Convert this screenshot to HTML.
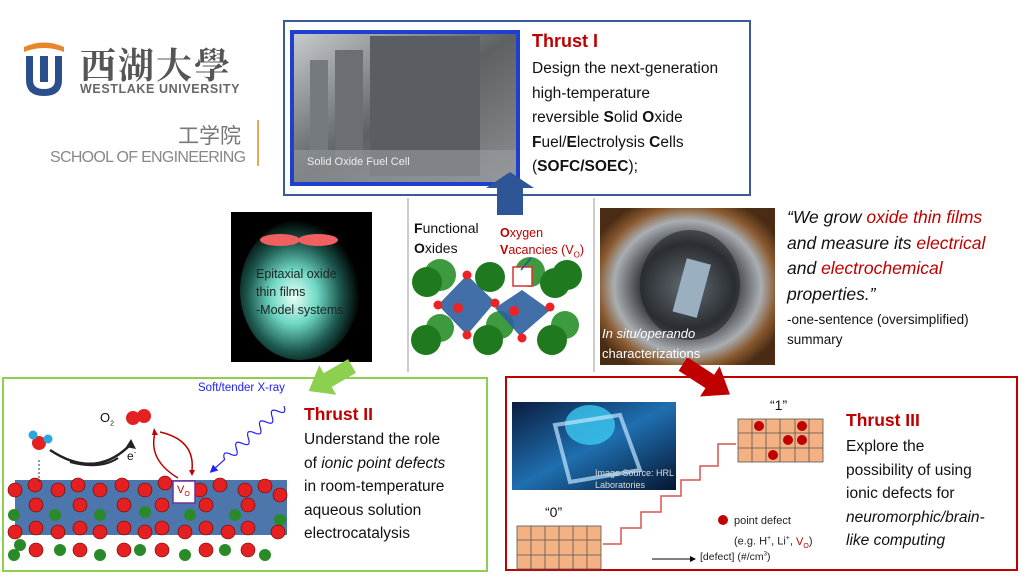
<!DOCTYPE html>
<html><head><meta charset="utf-8"><style>
html,body{margin:0;padding:0;background:#fff;}
body{width:1024px;height:576px;overflow:hidden;position:relative;font-family:"Liberation Sans","Noto Sans CJK SC",sans-serif;}
.t{position:absolute;white-space:nowrap;}
</style></head><body>
<svg width="1024" height="576" style="position:absolute;left:0;top:0" xmlns="http://www.w3.org/2000/svg">
<defs>
<radialGradient id="glow" cx="0.45" cy="0.55" r="0.55"><stop offset="0" stop-color="#e8fff8"/><stop offset="0.35" stop-color="#6fd8c4"/><stop offset="0.7" stop-color="#1d5a50"/><stop offset="1" stop-color="#000"/></radialGradient>
<radialGradient id="cham" cx="0.5" cy="0.5" r="0.6"><stop offset="0" stop-color="#c8d4dc"/><stop offset="0.45" stop-color="#3a3c40"/><stop offset="0.7" stop-color="#a9aeb3"/><stop offset="0.85" stop-color="#8a5a30"/><stop offset="1" stop-color="#4a2c14"/></radialGradient>
<linearGradient id="sofc" x1="0" y1="0" x2="1" y2="1"><stop offset="0" stop-color="#c9cdd0"/><stop offset="0.5" stop-color="#5d6164"/><stop offset="1" stop-color="#8d9194"/></linearGradient>
<linearGradient id="brain" x1="0" y1="0" x2="1" y2="1"><stop offset="0" stop-color="#0a1d3f"/><stop offset="0.5" stop-color="#1f6fb0"/><stop offset="1" stop-color="#051530"/></linearGradient>
</defs>
<!-- logo -->
<path d="M24 47 Q44 38 64 47 L64 52 Q44 44 24 52Z" fill="#e9862c"/>
<path d="M26 56 L26 80 Q26 96 44 96 Q62 96 62 80 L62 56 L55 56 L55 80 Q55 89 44 89 Q33 89 33 80 L33 56Z" fill="#2a4f8a"/>
<path d="M40 56 L40 82 L48 82 L48 56Z" fill="#2a4f8a"/>
<line x1="258" y1="120" x2="258" y2="166" stroke="#e9862c" stroke-width="1.5"/>
<!-- thrust I box -->
<rect x="284" y="21" width="466" height="174" fill="#fff" stroke="#3a5a9a" stroke-width="2"/>
<rect x="292" y="32" width="226" height="152" fill="url(#sofc)" stroke="#1f3fd0" stroke-width="4"/>
<rect x="370" y="36" width="110" height="140" fill="#5a5e62"/><rect x="335" y="50" width="28" height="110" fill="#6b6f73"/><rect x="310" y="60" width="18" height="90" fill="#757a7e"/>
<rect x="294" y="150" width="222" height="32" fill="#9a9da0" opacity="0.6"/>
<!-- blue up arrow -->
<polygon points="497,215 497,188 486,188 510,172 534,188 523,188 523,215" fill="#2e5596"/>
<!-- separators -->
<line x1="408" y1="198" x2="408" y2="372" stroke="#bbb" stroke-width="1.5"/>
<line x1="594" y1="198" x2="594" y2="372" stroke="#bbb" stroke-width="1.5"/>
<!-- epitaxial photo -->
<rect x="231" y="212" width="141" height="150" fill="#000"/>
<ellipse cx="300" cy="290" rx="60" ry="70" fill="url(#glow)"/>
<ellipse cx="280" cy="240" rx="20" ry="6" fill="#f06060"/><ellipse cx="318" cy="240" rx="20" ry="6" fill="#f06060"/>
<!-- crystal -->
<g>
<circle cx="440" cy="275" r="16" fill="#3e9a3e"/><circle cx="427" cy="282" r="15" fill="#1f7a1f"/>
<circle cx="490" cy="277" r="15" fill="#1f7a1f"/><circle cx="530" cy="272" r="15" fill="#3e9a3e"/><circle cx="567" cy="275" r="15" fill="#1f7a1f"/><circle cx="555" cy="283" r="15" fill="#1f7a1f"/>
<circle cx="440" cy="328" r="14" fill="#3e9a3e"/><circle cx="426" cy="340" r="15" fill="#1f7a1f"/><circle cx="500" cy="325" r="14" fill="#3e9a3e"/><circle cx="488" cy="340" r="15" fill="#1f7a1f"/><circle cx="565" cy="325" r="14" fill="#3e9a3e"/><circle cx="552" cy="340" r="15" fill="#1f7a1f"/>
<polygon points="467,275 495,302 467,335 438,305" fill="#2e5f9e" opacity="0.9"/>
<polygon points="522,290 550,310 520,336 495,308" fill="#2e5f9e" opacity="0.9"/>
<g fill="#e22">
<circle cx="467" cy="275" r="4.5"/><circle cx="438" cy="305" r="4.5"/><circle cx="495" cy="303" r="4.5"/><circle cx="467" cy="335" r="4.5"/><circle cx="458" cy="308" r="5"/><circle cx="514" cy="311" r="5"/><circle cx="550" cy="307" r="4.5"/><circle cx="522" cy="338" r="4.5"/></g>
<rect x="513" y="267" width="19" height="19" fill="#fff" stroke="#e03030" stroke-width="1.5"/>
<line x1="521" y1="270" x2="531" y2="258" stroke="#2e5596" stroke-width="1.5"/>
</g>
<!-- chamber photo -->
<rect x="600" y="208" width="175" height="157" fill="url(#cham)"/>
<ellipse cx="690" cy="285" rx="50" ry="55" fill="#20242a" opacity="0.6"/>
<rect x="680" y="260" width="25" height="55" fill="#9ab0c0" transform="rotate(15 690 285)"/>
<!-- green arrow -->
<polygon transform="translate(352,366) rotate(150)" points="0,-8 28,-8 28,-17 50,0 28,17 28,8 0,8" fill="#8dcf4e"/>
<!-- red arrow -->
<polygon transform="translate(683,364) rotate(33)" points="0,-8 32,-8 32,-18 56,0 32,18 32,8 0,8" fill="#c00000"/>
<!-- thrust II box -->
<rect x="3" y="378" width="484" height="193" fill="none" stroke="#8dcf4e" stroke-width="2"/>
<!-- thrust III box -->
<rect x="506" y="377" width="511" height="193" fill="none" stroke="#c00000" stroke-width="2"/>
<!-- thrust II illustration -->
<g>
<rect x="15" y="480" width="272" height="55" fill="#2e5f9e" opacity="0.85"/>
<g fill="#2a8a2a">
<circle cx="14" cy="515" r="6"/><circle cx="20" cy="545" r="6"/><circle cx="14" cy="555" r="6"/><circle cx="60" cy="550" r="6"/><circle cx="100" cy="555" r="6"/><circle cx="140" cy="550" r="6"/><circle cx="185" cy="555" r="6"/><circle cx="225" cy="550" r="6"/><circle cx="265" cy="555" r="6"/><circle cx="280" cy="520" r="6"/><circle cx="145" cy="512" r="6"/><circle cx="190" cy="515" r="6"/><circle cx="55" cy="515" r="6"/><circle cx="235" cy="515" r="6"/><circle cx="100" cy="515" r="6"/>
</g>
<g fill="#e52020" stroke="#600" stroke-width="0.6">
<circle cx="15" cy="490" r="7"/><circle cx="35" cy="485" r="7"/><circle cx="58" cy="490" r="7"/><circle cx="78" cy="485" r="7"/><circle cx="100" cy="490" r="7"/><circle cx="122" cy="485" r="7"/><circle cx="145" cy="490" r="7"/><circle cx="165" cy="483" r="7"/><circle cx="200" cy="490" r="7"/><circle cx="220" cy="485" r="7"/><circle cx="245" cy="490" r="7"/><circle cx="265" cy="486" r="7"/><circle cx="280" cy="495" r="7"/>
<circle cx="36" cy="505" r="7"/><circle cx="80" cy="505" r="7"/><circle cx="124" cy="505" r="7"/><circle cx="162" cy="505" r="7"/><circle cx="206" cy="505" r="7"/><circle cx="248" cy="505" r="7"/>
<circle cx="36" cy="528" r="7"/><circle cx="15" cy="532" r="7"/><circle cx="58" cy="532" r="7"/><circle cx="80" cy="528" r="7"/><circle cx="100" cy="532" r="7"/><circle cx="124" cy="528" r="7"/><circle cx="145" cy="532" r="7"/><circle cx="162" cy="528" r="7"/><circle cx="185" cy="532" r="7"/><circle cx="206" cy="528" r="7"/><circle cx="228" cy="532" r="7"/><circle cx="248" cy="528" r="7"/><circle cx="278" cy="532" r="7"/>
<circle cx="36" cy="550" r="7"/><circle cx="80" cy="550" r="7"/><circle cx="124" cy="550" r="7"/><circle cx="162" cy="550" r="7"/><circle cx="206" cy="550" r="7"/><circle cx="248" cy="550" r="7"/>
</g>
<rect x="173" y="481" width="22" height="22" fill="#fff" stroke="#7030a0" stroke-width="1.5"/>
<line x1="39" y1="460" x2="39" y2="482" stroke="#333" stroke-dasharray="2,2"/>
<circle cx="39" cy="443" r="7" fill="#e52020"/><circle cx="33" cy="435" r="4.5" fill="#29a8e0"/><circle cx="48" cy="439" r="4.5" fill="#29a8e0"/>
<path d="M50 450 Q95 480 130 445" fill="none" stroke="#222" stroke-width="2.5"/><polygon points="131,439 136,449 126,447" fill="#222"/>
<path d="M70 462 Q100 470 118 458" fill="none" stroke="#222" stroke-width="2"/>
<circle cx="133" cy="418" r="7" fill="#e52020"/><circle cx="144" cy="416" r="7" fill="#e52020"/>
<path d="M160 432 Q195 440 192 470" fill="none" stroke="#c00000" stroke-width="1.5"/><polygon points="189,470 195,470 192,476" fill="#c00000"/>
<path d="M178 478 Q148 460 155 433" fill="none" stroke="#c00000" stroke-width="1.5"/><polygon points="152,435 158,435 154,428" fill="#c00000"/>
<g transform="translate(284,406) rotate(138)">
<path d="M0 0 q4 -9 8 0 t8 0 t8 0 t8 0 t8 0 t8 0 t8 0 t8 0 t8 0 t8 0 L92 0" fill="none" stroke="#2020ff" stroke-width="1.2"/>
<polygon points="92,-4 100,0 92,4" fill="#2020ff"/>
</g>
</g>
<!-- thrust III illustration -->
<rect x="512" y="402" width="164" height="88" fill="url(#brain)"/>
<ellipse cx="590" cy="425" rx="25" ry="20" fill="#3bc8f0" opacity="0.8"/>
<polygon points="555,425 620,415 640,470 570,482" fill="none" stroke="#bfe6ff" stroke-width="4" opacity="0.7"/>
<g stroke="#555" stroke-width="0.8" fill="#f4b183">
<rect x="738" y="419" width="85" height="43"/>
<rect x="517" y="526" width="84" height="43"/>
</g>
<g stroke="#555" stroke-width="0.8">
<line x1="752" y1="419" x2="752" y2="462"/><line x1="766" y1="419" x2="766" y2="462"/><line x1="780" y1="419" x2="780" y2="462"/><line x1="795" y1="419" x2="795" y2="462"/><line x1="809" y1="419" x2="809" y2="462"/>
<line x1="738" y1="433" x2="823" y2="433"/><line x1="738" y1="448" x2="823" y2="448"/>
<line x1="531" y1="526" x2="531" y2="569"/><line x1="545" y1="526" x2="545" y2="569"/><line x1="559" y1="526" x2="559" y2="569"/><line x1="573" y1="526" x2="573" y2="569"/><line x1="587" y1="526" x2="587" y2="569"/>
<line x1="517" y1="540" x2="601" y2="540"/><line x1="517" y1="555" x2="601" y2="555"/>
</g>
<g fill="#c00000"><circle cx="759" cy="426" r="5"/><circle cx="802" cy="426" r="5"/><circle cx="788" cy="440" r="5"/><circle cx="802" cy="440" r="5"/><circle cx="773" cy="455" r="5"/><circle cx="723" cy="520" r="5"/></g>
<polyline points="603,544 621,544 621,528 641,528 641,512 661,512 661,496 681,496 681,480 700,480 700,466 718,466 718,444 736,444" fill="none" stroke="#d9534f" stroke-width="1.5"/>
<line x1="652" y1="559" x2="690" y2="559" stroke="#000" stroke-width="1"/><polygon points="690,556 696,559 690,562" fill="#000"/>
</svg>

<!-- logo text -->
<div class="t" style="left:80px;top:38px;font-size:36px;color:#555;font-family:'Noto Serif CJK SC',serif;font-weight:bold;letter-spacing:2px;">西湖大學</div>
<div class="t" style="left:80px;top:82px;font-size:12.5px;font-weight:bold;color:#666;letter-spacing:0.6px;">WESTLAKE UNIVERSITY</div>
<div class="t" style="left:178px;top:120px;font-size:21px;color:#777;">工学院</div>
<div class="t" style="left:50px;top:149px;font-size:16px;color:#888;letter-spacing:-0.7px;">SCHOOL OF ENGINEERING</div>
<div class="t" style="left:307px;top:156px;font-size:11px;color:#eee;">Solid Oxide Fuel Cell</div>

<!-- thrust I -->
<div class="t" style="left:532px;top:31px;font-size:18px;font-weight:bold;color:#c00000;">Thrust I</div>
<div class="t" style="left:532px;top:57px;font-size:15.5px;line-height:24.5px;color:#111;">Design the next-generation<br>high-temperature<br>reversible <b>S</b>olid <b>O</b>xide<br><b>F</b>uel/<b>E</b>lectrolysis <b>C</b>ells<br>(<b>SOFC/SOEC</b>);</div>

<div class="t" style="left:256px;top:265px;font-size:12.5px;line-height:18px;color:#222;">Epitaxial oxide<br>thin films<br>-Model systems</div>
<div class="t" style="left:414px;top:218px;font-size:14px;line-height:20px;color:#111;"><b>F</b>unctional<br><b>O</b>xides</div>
<div class="t" style="left:500px;top:225px;font-size:12.5px;line-height:17px;color:#c00000;"><b>O</b>xygen<br><b>V</b>acancies (V<sub style="font-size:8px">O</sub>)</div>
<div class="t" style="left:602px;top:324px;font-size:13px;line-height:20px;color:#fff;"><i>In situ/operando</i><br>characterizations</div>

<div class="t" style="left:787px;top:205px;font-size:17.5px;line-height:25.5px;color:#111;font-style:italic;">“We grow <span style="color:#c00000">oxide thin films</span><br>and measure its <span style="color:#c00000">electrical</span><br>and <span style="color:#c00000">electrochemical</span><br>properties.”</div>
<div class="t" style="left:787px;top:310px;font-size:13.5px;line-height:20px;color:#111;">-one-sentence (oversimplified)<br>summary</div>

<!-- thrust II -->
<div class="t" style="left:198px;top:382px;font-size:11.5px;color:#2020ff;">Soft/tender X-ray</div>
<div class="t" style="left:100px;top:410px;font-size:13px;color:#111;">O<sub style="font-size:7px">2</sub></div>
<div class="t" style="left:127px;top:449px;font-size:12px;color:#111;">e<sup style="font-size:7px">-</sup></div>
<div class="t" style="left:177px;top:484px;font-size:11px;color:#c00000;">V<sub style="font-size:7px">O</sub></div>
<div class="t" style="left:304px;top:404px;font-size:17.5px;font-weight:bold;color:#c00000;">Thrust II</div>
<div class="t" style="left:304px;top:428px;font-size:15.5px;line-height:23.5px;color:#111;">Understand the role<br>of <i>ionic point defects</i><br>in room-temperature<br>aqueous solution<br>electrocatalysis</div>

<!-- thrust III -->
<div class="t" style="left:595px;top:467px;font-size:9px;line-height:12px;color:#ddd;">Image Source: HRL<br>Laboratories</div>
<div class="t" style="left:770px;top:397px;font-size:14px;color:#111;">“1”</div>
<div class="t" style="left:545px;top:504px;font-size:14px;color:#111;">“0”</div>
<div class="t" style="left:734px;top:513px;font-size:11px;line-height:17px;color:#222;">point defect<br>(e.g. H<sup style="font-size:7px">+</sup>, Li<sup style="font-size:7px">+</sup>, <span style="color:#c00000">V<sub style="font-size:7px">O</sub></span>)</div>
<div class="t" style="left:700px;top:551px;font-size:10.5px;color:#222;">[defect] (#/cm<sup style="font-size:6px">3</sup>)</div>
<div class="t" style="left:846px;top:410px;font-size:17.5px;font-weight:bold;color:#c00000;">Thrust III</div>
<div class="t" style="left:846px;top:435px;font-size:15.5px;line-height:23.5px;color:#111;">Explore the<br>possibility of using<br>ionic defects for<br><i>neuromorphic/brain-</i><br><i>like computing</i></div>
</body></html>
